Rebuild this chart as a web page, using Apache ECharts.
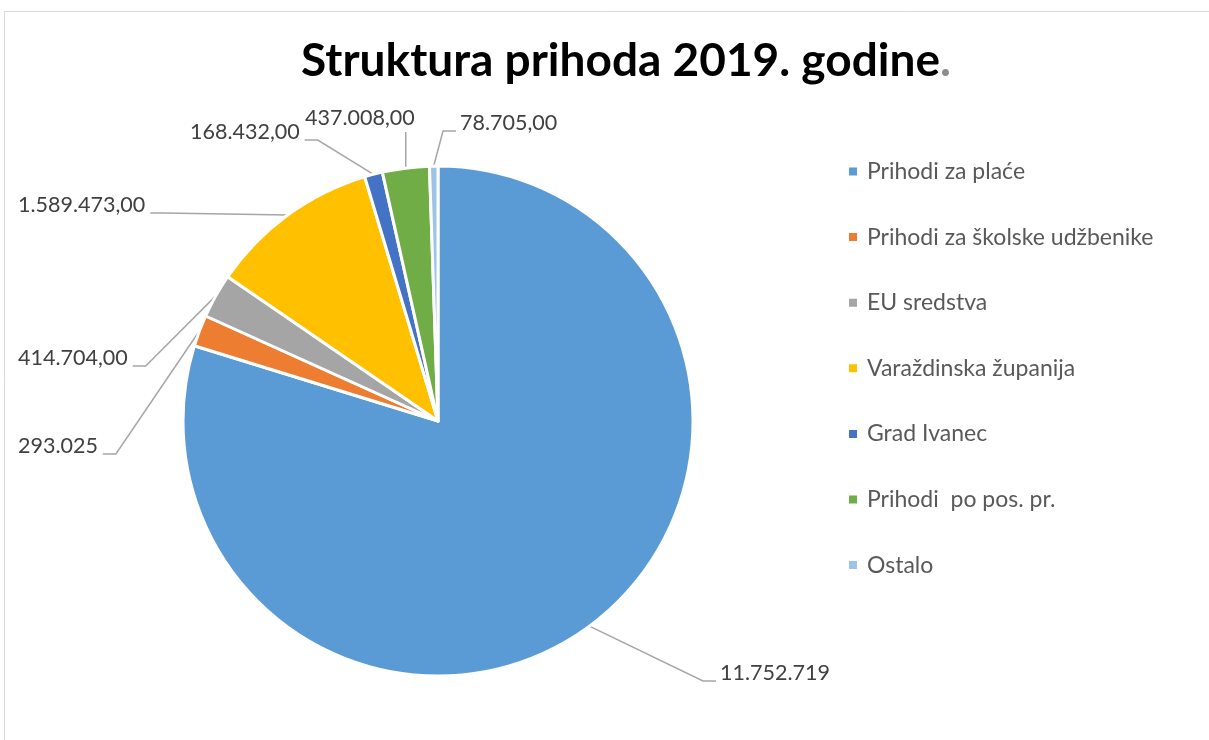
<!DOCTYPE html>
<html>
<head>
<meta charset="utf-8">
<script src="https://cdn.jsdelivr.net/npm/echarts@6/dist/echarts.min.js"></script>
<style>
  html, body { margin: 0; padding: 0; background: #fff; }
  #pieChart { width: 1209px; height: 740px; }
</style>
</head>
<body>
<div id="pieChart"></div>
<script>
/* pie chart - struktura prihoda */
var categories = ['Prihodi za plaće', 'Prihodi za školske udžbenike', 'EU sredstva',
  'Varaždinska županija', 'Grad Ivanec', 'Prihodi  po pos. pr.', 'Ostalo'];
var values = [11752719, 293025, 414704, 1589473, 168432, 437008, 78705];
var labelTexts = ['11.752.719', '293.025', '414.704,00', '1.589.473,00', '168.432,00', '437.008,00', '78.705,00'];
var sliceColors = ['#5B9BD5', '#ED7D31', '#A5A5A5', '#FFC000', '#4472C4', '#70AD47', '#9DC3E6'];

// where each value label sits (text left x, text middle y, side of the leader line)
var labelPos = [
  [720, 673, 'right'],
  [18, 446, 'left'],
  [18, 358, 'left'],
  [18, 205, 'left'],
  [190, 132, 'left'],
  [305, 118, 'below'],
  [460, 123, 'right']
];

var pieData = categories.map(function (name, i) {
  return { name: name, value: values[i], itemStyle: { color: sliceColors[i] } };
});

var optionPie = {
  animation: false,
  textStyle: { fontFamily: 'Lato' },
  title: {
    text: '{a|Struktura prihoda 2019. godine}{b|.}',
    left: 621,
    top: 33,
    textAlign: 'center',
    textStyle: {
      rich: {
        a: { fontFamily: 'Lato', fontWeight: 'bold', fontSize: 46, color: '#000' },
        b: { fontFamily: 'Lato', fontWeight: 'bold', fontSize: 46, color: '#8c8c8c' }
      }
    }
  },
  legend: {
    orient: 'vertical',
    left: 842,
    top: 155,
    icon: 'rect',
    itemWidth: 10,
    itemHeight: 10,
    itemGap: 42.6,
    textStyle: { fontFamily: 'Lato', fontSize: 23, lineHeight: 22, color: '#595959', padding: [0, 0, 0, 4] },
    data: categories
  },
  graphic: [{
    type: 'rect',
    shape: { x: 4.5, y: 11.5, width: 1300, height: 800 },
    style: { fill: 'none', stroke: '#d9d9d9', lineWidth: 1 },
    silent: true
  }],
  series: [{
    type: 'pie',
    center: [438, 421],
    radius: 255,
    startAngle: 90,
    clockwise: true,
    avoidLabelOverlap: false,
    itemStyle: { borderColor: '#fff', borderWidth: 3 },
    label: {
      show: true,
      position: 'outside',
      fontFamily: 'Lato',
      fontSize: 21.5,
      color: '#404040',
      formatter: function (p) { return labelTexts[p.dataIndex]; }
    },
    labelLine: {
      show: true,
      length: 10,
      length2: 10,
      lineStyle: { color: '#a6a6a6', width: 1.5 }
    },
    labelLayout: function (p) {
      var pos = labelPos[p.dataIndex];
      var w = p.labelRect.width;
      var arc = p.labelLinePoints ? p.labelLinePoints[0] : [0, 0];
      var lineY = pos[1] + 8;
      var pts;
      if (pos[2] === 'left') {
        var ex = pos[0] + w + 5;
        pts = [arc, [ex + 13, lineY], [ex, lineY]];
      } else if (pos[2] === 'right') {
        var sx = pos[0] - 4;
        pts = [arc, [sx - 13, lineY], [sx, lineY]];
      } else {
        pts = [arc, [arc[0], pos[1] + 14], [arc[0], pos[1] + 14]];
      }
      return {
        x: pos[0],
        y: pos[1],
        align: 'left',
        verticalAlign: 'middle',
        labelLinePoints: pts
      };
    },
    emphasis: { disabled: true },
    data: pieData
  }]
};

var pieEl = document.getElementById('pieChart');
var pieChart = echarts.init(pieEl);
pieChart.setOption(optionPie);
</script>
</body>
</html>
